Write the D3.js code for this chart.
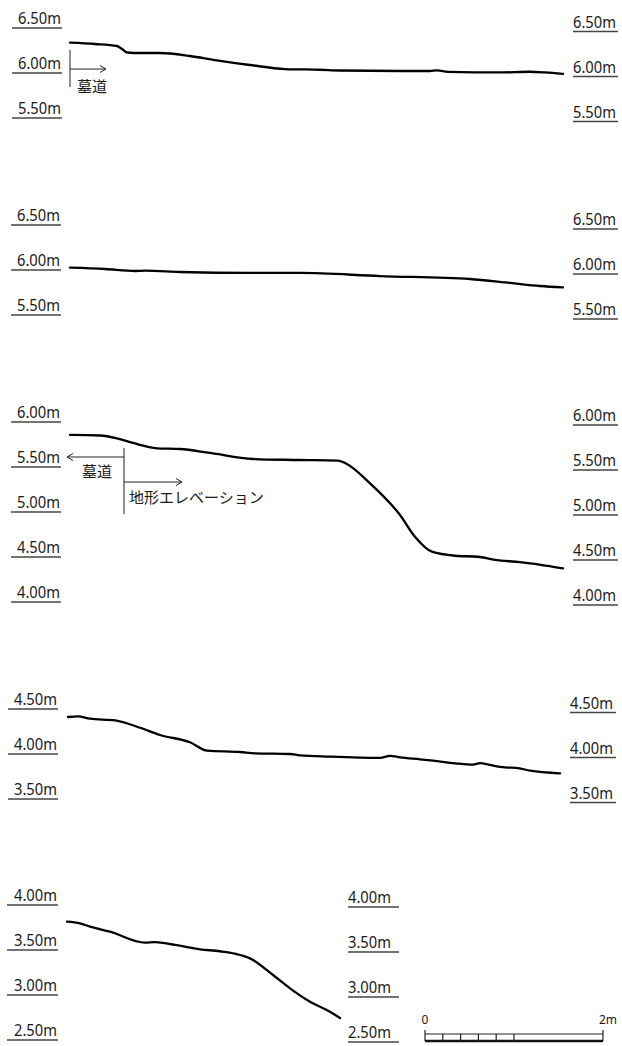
<!DOCTYPE html>
<html>
<head>
<meta charset="utf-8">
<script src="https://cdn.jsdelivr.net/npm/d3@7"></script>
<style>
    body { margin: 0; background: #fff; }
    text { font-family: "Noto Sans", "Noto Sans CJK JP", sans-serif; fill: #1a1a1a; }
</style>
</head>
<body>
<svg id="chart"></svg>
<script>
// section profiles: [distance from start (m), elevation (m)]
const profile1 = [
    [0, 6.337], [0.281, 6.322], [0.528, 6.300], [0.584, 6.267], [0.640, 6.228],
    [0.787, 6.222], [1.011, 6.222], [1.348, 6.189], [1.629, 6.144], [2.022, 6.089],
    [2.416, 6.044], [2.809, 6.036], [3.034, 6.028], [3.708, 6.022], [4.045, 6.022],
    [4.124, 6.030], [4.247, 6.013], [4.831, 6.006], [5.169, 6.014], [5.337, 6.006],
    [5.539, 5.989]
];
const profile2 = [
    [0, 6.026], [0.393, 6.011], [0.730, 5.989], [0.843, 5.992], [1.236, 5.978],
    [2.022, 5.967], [2.584, 5.967], [3.483, 5.933], [4.494, 5.900], [4.944, 5.856],
    [5.281, 5.822], [5.539, 5.806]
];
const profile3 = [
    [0, 5.856], [0.337, 5.850], [0.528, 5.819], [0.708, 5.767], [0.978, 5.708],
    [1.236, 5.700], [1.573, 5.656], [2.056, 5.589], [2.584, 5.578], [3.011, 5.570],
    [3.090, 5.544], [3.371, 5.319], [3.708, 4.967], [3.876, 4.726], [4.067, 4.559],
    [4.326, 4.514], [4.584, 4.503], [4.775, 4.467], [5.056, 4.444], [5.539, 4.374]
];
const profile4 = [
    [-0.022, 4.411], [0.090, 4.419], [0.225, 4.392], [0.506, 4.374], [0.787, 4.292],
    [1.011, 4.211], [1.348, 4.130], [1.539, 4.037], [1.910, 4.022], [2.079, 4.008],
    [2.472, 4.000], [2.584, 3.985], [2.921, 3.970], [3.483, 3.956], [3.596, 3.980],
    [3.708, 3.963], [3.933, 3.941], [4.079, 3.926], [4.326, 3.897], [4.528, 3.881],
    [4.607, 3.898], [4.719, 3.878], [4.888, 3.852], [5.034, 3.844], [5.169, 3.814],
    [5.506, 3.785]
];
const profile5 = [
    [-0.034, 3.815], [0.112, 3.796], [0.225, 3.759], [0.449, 3.703], [0.843, 3.581],
    [0.955, 3.587], [1.180, 3.556], [1.461, 3.508], [1.685, 3.486], [1.854, 3.459],
    [2.022, 3.407], [2.281, 3.222], [2.472, 3.074], [2.697, 2.925], [2.921, 2.814],
    [3.034, 2.744]
];

// elevation tick values per section
const ticks1 = [6.5, 6.0, 5.5];
const ticks2 = [6.5, 6.0, 5.5];
const ticks3 = [6.0, 5.5, 5.0, 4.5, 4.0];
const ticks4 = [4.5, 4.0, 3.5];
const ticks5 = [4.0, 3.5, 3.0, 2.5];

// scale bar
const scaleBarTicks = [0, 0.2, 0.4, 0.6, 0.8, 1.0, 2.0];
const scaleBarLabels = [{ v: 0, t: "0" }, { v: 2, t: "2m" }];

const labelTomb = "墓道";
const labelTerrain = "地形エレベーション";

const width = 622;
const height = 1046;
const pxPerMetre = 90;

const svg = d3.select("#chart")
    .attr("width", width)
    .attr("height", height);

const x = d3.scaleLinear().domain([0, 2]).range([70, 70 + 178]);

const panels = [
    { data: profile1, ticks: ticks1, top: 28, left: [12, 62], right: [573, 618], shift: 3.5 },
    { data: profile2, ticks: ticks2, top: 225, left: [11, 61], right: [573, 618], shift: 4 },
    { data: profile3, ticks: ticks3, top: 422, left: [11, 61], right: [573, 618], shift: 3 },
    { data: profile4, ticks: ticks4, top: 709, left: [8, 58], right: [570, 616], shift: 3.5 },
    { data: profile5, ticks: ticks5, top: 905, left: [7, 58], right: [348, 399], shift: 2 }
];

const fmt = v => d3.format(".2f")(v) + "m";

panels.forEach(p => {
    const hi = d3.max(p.ticks);
    const lo = d3.min(p.ticks);
    p.y = d3.scaleLinear()
        .domain([hi, lo])
        .range([p.top, p.top + (hi - lo) * pxPerMetre]);

    const g = svg.append("g");

    // left scale
    g.selectAll(".ltick")
        .data(p.ticks)
        .join("line")
        .attr("x1", p.left[0])
        .attr("x2", p.left[1])
        .attr("y1", d => p.y(d))
        .attr("y2", d => p.y(d))
        .attr("stroke", "#444")
        .attr("stroke-width", 1.3);

    g.selectAll(".llabel")
        .data(p.ticks)
        .join("text")
        .attr("x", p.left[1] - 1)
        .attr("y", d => p.y(d) - 4)
        .attr("text-anchor", "end")
        .attr("textLength", 43)
        .attr("lengthAdjust", "spacingAndGlyphs")
        .style("font-size", "16.5px")
        .text(fmt);

    // right scale
    g.selectAll(".rtick")
        .data(p.ticks)
        .join("line")
        .attr("x1", p.right[0])
        .attr("x2", p.right[1])
        .attr("y1", d => p.y(d) + p.shift)
        .attr("y2", d => p.y(d) + p.shift)
        .attr("stroke", "#444")
        .attr("stroke-width", 1.3);

    g.selectAll(".rlabel")
        .data(p.ticks)
        .join("text")
        .attr("x", p.right[0])
        .attr("y", d => p.y(d) + p.shift - 4)
        .attr("text-anchor", "start")
        .attr("textLength", 43)
        .attr("lengthAdjust", "spacingAndGlyphs")
        .style("font-size", "16.5px")
        .text(fmt);

    const line = d3.line()
        .x(d => x(d[0]))
        .y(d => p.y(d[1]))
        .curve(d3.curveMonotoneX);

    g.append("path")
        .datum(p.data)
        .attr("d", line)
        .attr("fill", "none")
        .attr("stroke", "#000")
        .attr("stroke-width", 2.3)
        .attr("stroke-linejoin", "round")
        .attr("stroke-linecap", "round");
});

function arrow(x1, y1, x2, y2) {
    const dir = Math.sign(x2 - x1);
    svg.append("line")
        .attr("x1", x1).attr("y1", y1)
        .attr("x2", x2).attr("y2", y2)
        .attr("stroke", "#222")
        .attr("stroke-width", 1);
    svg.append("path")
        .attr("d", `M${x2 - dir * 6},${y2 - 3.5}L${x2},${y2}L${x2 - dir * 6},${y2 + 3.5}`)
        .attr("fill", "none")
        .attr("stroke", "#222")
        .attr("stroke-width", 1);
}

// section 1 marker
{
    const y = panels[0].y;
    svg.append("line")
        .attr("x1", x(0)).attr("x2", x(0))
        .attr("y1", y(6.256)).attr("y2", y(5.844))
        .attr("stroke", "#222").attr("stroke-width", 1);
    arrow(x(0), y(6.044), x(0.404), y(6.044));
    svg.append("text")
        .attr("x", x(0.079))
        .attr("y", y(5.79))
        .style("font-size", "15px")
        .text(labelTomb);
}

// section 3 marker
{
    const y = panels[2].y;
    svg.append("line")
        .attr("x1", x(0.607)).attr("x2", x(0.607))
        .attr("y1", y(5.711)).attr("y2", y(4.978))
        .attr("stroke", "#222").attr("stroke-width", 1);
    arrow(x(0.607), y(5.611), x(-0.034), y(5.611));
    arrow(x(0.607), y(5.333), x(1.258), y(5.333));
    svg.append("text")
        .attr("x", x(0.303))
        .attr("y", y(5.389))
        .attr("text-anchor", "middle")
        .style("font-size", "15px")
        .text(labelTomb);
    svg.append("text")
        .attr("x", x(0.663))
        .attr("y", y(5.10))
        .style("font-size", "15px")
        .text(labelTerrain);
}

// scale bar
const bar = d3.scaleLinear().domain([0, 2]).range([425, 603]);
const barTop = 1034;
const barBottom = 1041;

svg.append("line")
    .attr("x1", bar(0)).attr("x2", bar(2))
    .attr("y1", barTop).attr("y2", barTop)
    .attr("stroke", "#222").attr("stroke-width", 1);
svg.append("line")
    .attr("x1", bar(0)).attr("x2", bar(2))
    .attr("y1", barBottom).attr("y2", barBottom)
    .attr("stroke", "#111").attr("stroke-width", 2.5);

svg.selectAll(".bartick")
    .data(scaleBarTicks)
    .join("line")
    .attr("x1", d => bar(d))
    .attr("x2", d => bar(d))
    .attr("y1", d => (d === 0 || d === 2) ? barTop - 4 : barTop)
    .attr("y2", barBottom)
    .attr("stroke", "#222")
    .attr("stroke-width", 1.2);

svg.selectAll(".barlabel")
    .data(scaleBarLabels)
    .join("text")
    .attr("x", d => d.v === 0 ? bar(0) : bar(2) - 4)
    .attr("y", 1024)
    .attr("text-anchor", d => d.v === 0 ? "middle" : "start")
    .style("font-size", "12px")
    .text(d => d.t);
</script>
</body>
</html>
